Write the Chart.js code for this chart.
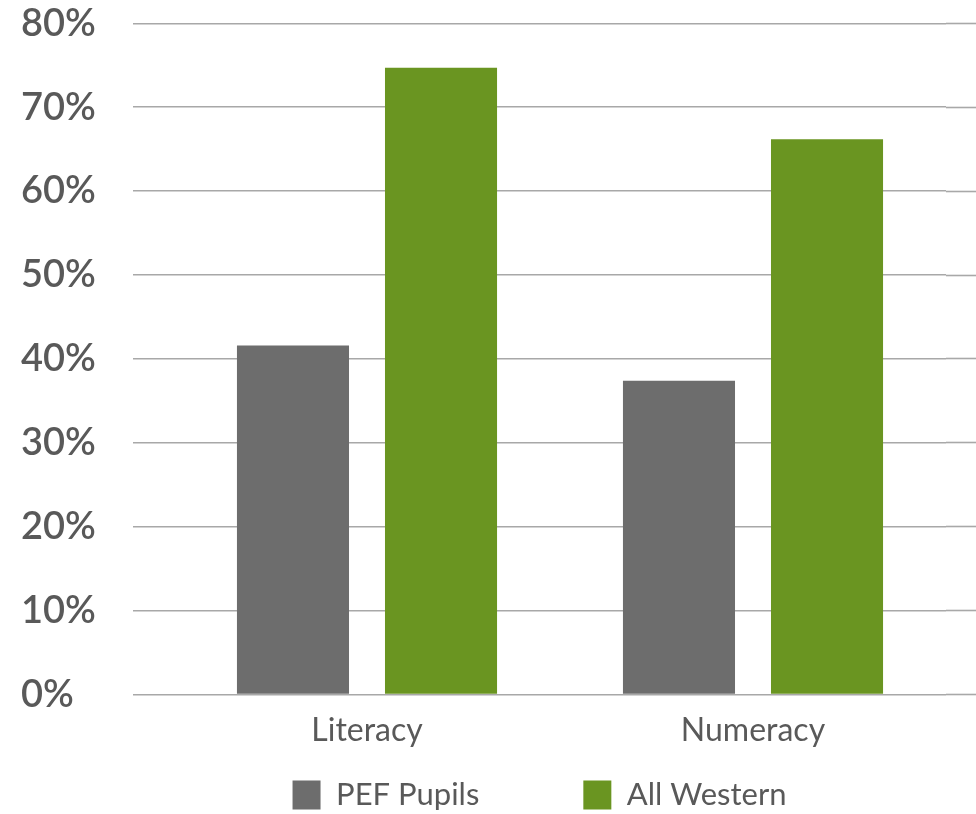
<!DOCTYPE html>
<html>
<head>
<meta charset="utf-8">
<script src="https://cdn.jsdelivr.net/npm/chart.js@4/dist/chart.umd.min.js"></script>
<style>
  html, body { margin: 0; padding: 0; background: #ffffff; }
  #wrap { width: 976px; height: 814px; position: relative; }
</style>
</head>
<body>
<div id="wrap"><canvas id="c"></canvas></div>
<script>
const categories = ['Literacy', 'Numeracy'];
const seriesNames = ['PEF Pupils', 'All Western'];
const pefPupils = [41.6, 37.4];
const allWestern = [74.7, 66.2];
const yTicks = [0, 10, 20, 30, 40, 50, 60, 70, 80];

const gridColor = '#a8a8a8';
const textColor = '#595959';
const fontFamily = 'Lato, "Open Sans", sans-serif';

new Chart(document.getElementById('c'), {
  type: 'bar',
  data: {
    labels: categories,
    datasets: [
      { label: seriesNames[0], data: pefPupils, backgroundColor: '#6d6d6d', borderWidth: 0,
        categoryPercentage: 0.767, barPercentage: 0.757 },
      { label: seriesNames[1], data: allWestern, backgroundColor: '#6a9521', borderWidth: 0,
        categoryPercentage: 0.767, barPercentage: 0.757 }
    ]
  },
  options: {
    responsive: true,
    maintainAspectRatio: false,
    animation: false,
    layout: { padding: { left: 103, right: 0, top: 23.4, bottom: -25.5 } },
    scales: {
      x: {
        afterFit: (s) => { s.height = -19; },
        grid: { display: false, drawTicks: false },
        border: { display: false },
        ticks: { color: textColor, font: { family: fontFamily, size: 32 }, mirror: true, padding: -55.4 }
      },
      y: {
        min: yTicks[0], max: yTicks[yTicks.length - 1],
        afterFit: (s) => { s.width = 71; },
        afterBuildTicks: (s) => { s.ticks = yTicks.map(v => ({ value: v })); },
        grid: { color: gridColor, lineWidth: 1.6, drawTicks: true, tickLength: 41, tickColor: gridColor, tickWidth: 1.6 },
        border: { display: false },
        ticks: { color: textColor, font: { family: fontFamily, size: 38, weight: '600' }, mirror: true, padding: -153,
                 callback: (v) => v + '%' }
      },
      y2: {
        position: 'right',
        min: yTicks[0], max: yTicks[yTicks.length - 1],
        afterFit: (s) => { s.width = 30; },
        afterBuildTicks: (s) => { s.ticks = yTicks.map(v => ({ value: v })); },
        grid: { drawOnChartArea: false, drawTicks: true, tickLength: 30, tickColor: gridColor, tickWidth: 1.6, color: gridColor },
        border: { display: false },
        ticks: { display: false }
      }
    },
    plugins: {
      legend: {
        position: 'bottom',
        labels: { color: textColor, font: { family: fontFamily, size: 31 }, boxWidth: 28, boxHeight: 29, padding: 104 }
      },
      tooltip: { enabled: false }
    }
  }
});
</script>
</body>
</html>
